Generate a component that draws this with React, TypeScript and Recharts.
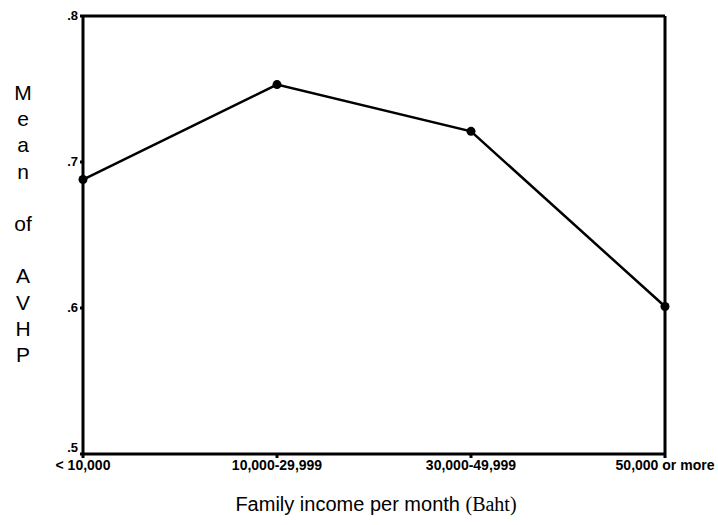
import React from 'react';
import { LineChart, Line, XAxis, YAxis, Label, ReferenceLine } from 'recharts';

// income groups and mean AVHP values
const incomeGroups = ['< 10,000', '10,000-29,999', '30,000-49,999', '50,000 or more'];
const meanAvhp = [0.688, 0.753, 0.721, 0.601];
const yTicks = [0.5, 0.6, 0.7, 0.8];
const yTitleLines = ['M', 'e', 'a', 'n', '', 'of', '', 'A', 'V', 'H', 'P'];

const data = incomeGroups.map((g, i) => ({ group: g, avhp: meanAvhp[i] }));

const fmtTick = (v: number) => v.toFixed(1).replace(/^0/, '');

const YTick = (props: any) => {
  const { x, y, payload } = props;
  // bottom label sits a bit higher so it clears the x labels
  const shift = payload.value === 0.5 ? -6 : 0;
  return (
    <text x={x} y={y + shift} dy={4} textAnchor="end" fontFamily="Liberation Sans, Arial" fontSize={13} fontWeight="bold" fill="#000">
      {fmtTick(payload.value)}
    </text>
  );
};

const YTitle = () => (
  <text x={23} y={100} textAnchor="middle" fontFamily="Liberation Sans, Arial" fontSize={21} fill="#000">
    {yTitleLines.map((l, i) => (
      <tspan key={i} x={23} dy={i === 0 ? 0 : 26.2}>{l || '\u00a0'}</tspan>
    ))}
  </text>
);

const XTitle = () => (
  <text x={376} y={511} textAnchor="middle" fontFamily="Liberation Sans, Arial" fontSize={20} fill="#000">
    Family income per month <tspan fontFamily="Liberation Serif, Times New Roman">(Baht)</tspan>
  </text>
);

export default function App() {
  return (
    <div style={{ position: 'absolute', left: 0, top: 0, background: '#fff' }}>
      <LineChart width={718} height={525} data={data} margin={{ top: 16, right: 53, left: 43, bottom: 41 }}>
        <XAxis
          dataKey="group"
          stroke="#000"
          strokeWidth={3}
          tickSize={4}
          interval={0}
          tick={{ fill: '#000', fontSize: 14, fontFamily: 'Liberation Sans, Arial', fontWeight: 'bold' }}
          height={30}
        >
          <Label content={XTitle} />
        </XAxis>
        <YAxis
          domain={[0.5, 0.8]}
          ticks={yTicks}
          stroke="#000"
          strokeWidth={3}
          tickSize={3}
          width={40}
          tick={<YTick />}
        >
          <Label content={YTitle} />
        </YAxis>
        <ReferenceLine y={0.8} stroke="#000" strokeWidth={3} />
        <ReferenceLine x="50,000 or more" stroke="#000" strokeWidth={3} />
        <Line
          dataKey="avhp"
          type="linear"
          stroke="#000"
          strokeWidth={2.5}
          dot={{ r: 4.5, fill: '#000', stroke: '#000', strokeWidth: 0 }}
          isAnimationActive={false}
        />
      </LineChart>
    </div>
  );
}
